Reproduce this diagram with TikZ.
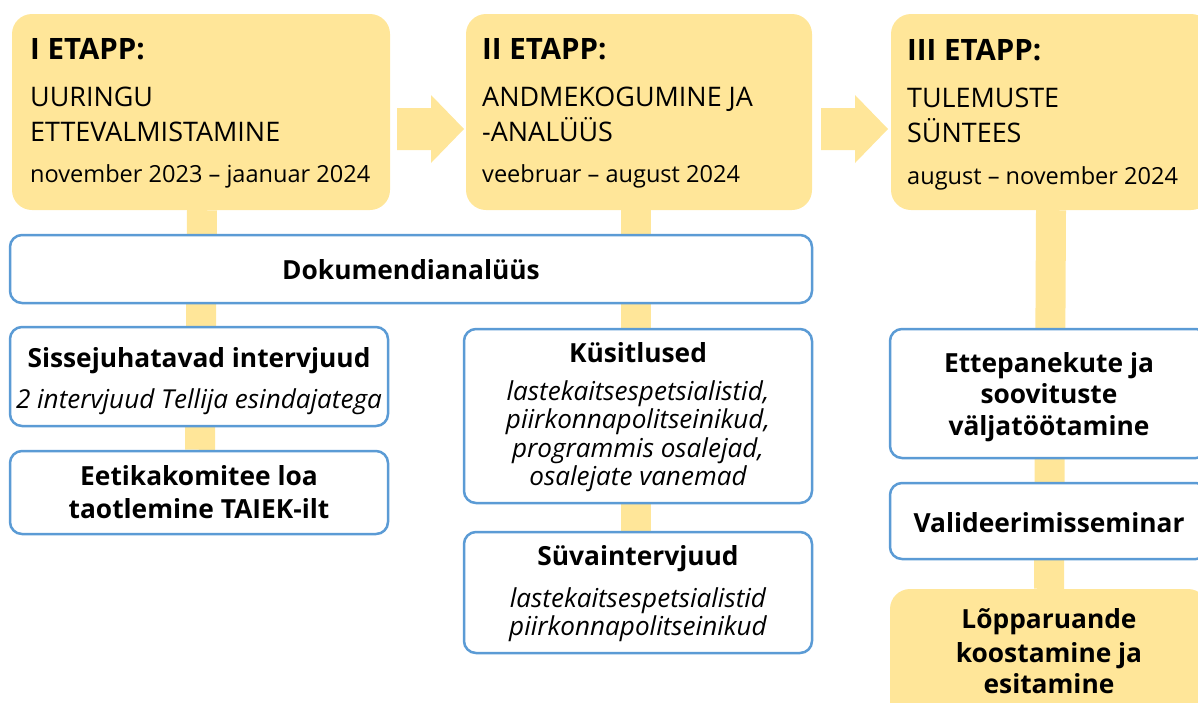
\documentclass[tikz,border=0pt]{standalone}
\usepackage{fontspec}
\setmainfont{Open Sans}
\usetikzlibrary{backgrounds}
\definecolor{gold}{HTML}{FFE699}
\definecolor{bord}{HTML}{5B9BD5}
\newlength\mw
\newcommand\fitsize[3]{\settowidth\mw{\fontsize{10pt}{12pt}\selectfont #2}\pgfmathsetmacro#1{10*#3/\mw}}
\begin{document}
\fitsize\szH{\bfseries III ETAPP:}{134}%
\fitsize\szC{ETTEVALMISTAMINE}{250}%
\fitsize\szD{november 2023 – jaanuar 2024}{340}%
\fitsize\szB{\bfseries Sissejuhatavad intervjuud}{343}%
\fitsize\szIa{\itshape 2 intervjuud Tellija esindajatega}{353}%
\fitsize\szIb{\itshape lastekaitsespetsialistid,}{272}%
\pgfmathsetmacro\szI{(\szIa+\szIb)/2}%
\begin{tikzpicture}[x=1pt,y=-1pt,
  stagebox/.style={fill=gold, rounded corners=20pt, inner sep=0pt},
  bluebox/.style={draw=bord, line width=2.5pt, fill=white, rounded corners=12pt, inner sep=0pt},
  headtxt/.style={inner sep=0pt, anchor=base west, font=\bfseries\fontsize{\szH pt}{\szH pt}\selectfont},
  captxt/.style={inner sep=0pt, anchor=base west, font=\fontsize{\szC pt}{\szC pt}\selectfont},
  datetxt/.style={inner sep=0pt, anchor=base west, font=\fontsize{\szD pt}{\szD pt}\selectfont},
  boldtxt/.style={inner sep=0pt, anchor=base, font=\bfseries\fontsize{\szB pt}{\szB pt}\selectfont},
  ittxt/.style={inner sep=0pt, anchor=base, font=\itshape\fontsize{\szI pt}{\szI pt}\selectfont},
  barline/.style={gold, line width=30pt},
  arrowshape/.style={fill=gold}
]
\useasboundingbox (0,0) rectangle (1198,702);
\clip (0,0) rectangle (1198,702);

% stage boxes
\node[stagebox, minimum width=378pt, minimum height=196pt] (s1) at (201,112) {};
\node[stagebox, minimum width=346pt, minimum height=196pt] (s2) at (639,112) {};
\node[stagebox, minimum width=320pt, minimum height=196pt] (s3) at (1051,112) {};

% arrows between stages
\fill[arrowshape] (397,108) -- (431,108) -- (431,95) -- (464,129) -- (431,163) -- (431,150) -- (397,150) -- cycle;
\fill[arrowshape] (821,108) -- (855,108) -- (855,95) -- (888,129) -- (855,163) -- (855,150) -- (821,150) -- cycle;

% stage texts
\node[headtxt] (h1) at (30,59) {I ETAPP:};
\node[captxt] (c1a) at (30,106) {UURINGU};
\node[captxt] (c1b) at (30,141.5) {ETTEVALMISTAMINE};
\node[datetxt] (d1) at (30,182) {november 2023 – jaanuar 2024};

\node[headtxt] (h2) at (482,59) {II ETAPP:};
\node[captxt] (c2a) at (482,106) {ANDMEKOGUMINE JA};
\node[captxt] (c2b) at (482,141.5) {-ANALÜÜS};
\node[datetxt] (d2) at (482,182) {veebruar – august 2024};

\node[headtxt] (h3) at (907,60) {III ETAPP:};
\node[captxt] (c3a) at (907,107) {TULEMUSTE};
\node[captxt] (c3b) at (907,142) {SÜNTEES};
\node[datetxt] (d3) at (907,184) {august – november 2024};

% blue boxes
\node[bluebox, minimum width=802pt, minimum height=68pt] (dok) at (411,269) {};
\node[boldtxt] (dokt) at (411,279.5) {Dokumendianalüüs};

\node[bluebox, minimum width=378pt, minimum height=99pt] (sis) at (199,376.5) {};
\node[boldtxt] (sist) at (199,367) {Sissejuhatavad intervjuud};
\node[ittxt] (sisi) at (199,408) {2 intervjuud Tellija esindajatega};

\node[bluebox, minimum width=378pt, minimum height=83pt] (eet) at (199,492.5) {};
\node[boldtxt] (eet1) at (199,485) {Eetikakomitee loa};
\node[boldtxt] (eet2) at (199,518) {taotlemine TAIEK-ilt};

\node[bluebox, minimum width=348pt, minimum height=174pt] (kys) at (638,416) {};
\node[boldtxt] (kyst) at (638,362) {Küsitlused};
\node[ittxt] (kys1) at (638,400) {lastekaitsespetsialistid,};
\node[ittxt] (kys2) at (638,428) {piirkonnapolitseinikud,};
\node[ittxt] (kys3) at (638,457) {programmis osalejad,};
\node[ittxt] (kys4) at (638,485) {osalejate vanemad};

\node[bluebox, minimum width=348pt, minimum height=121pt] (suv) at (638,592.5) {};
\node[boldtxt] (suvt) at (638,565) {Süvaintervjuud};
\node[ittxt] (suv1) at (638,607) {lastekaitsespetsialistid};
\node[ittxt] (suv2) at (638,635) {piirkonnapolitseinikud};

\node[bluebox, minimum width=318pt, minimum height=129pt] (ett) at (1049,393.5) {};
\node[boldtxt] (ett1) at (1049,372) {Ettepanekute ja};
\node[boldtxt] (ett2) at (1049,403) {soovituste};
\node[boldtxt] (ett3) at (1049,435) {väljatöötamine};

\node[bluebox, minimum width=318pt, minimum height=76pt] (val) at (1049,521) {};
\node[boldtxt] (valt) at (1049,532) {Valideerimisseminar};

\node[stagebox, minimum width=318pt, minimum height=140pt] (lop) at (1049,659) {};
\node[boldtxt] (lop1) at (1049,628) {Lõpparuande};
\node[boldtxt] (lop2) at (1049,662) {koostamine ja};
\node[boldtxt] (lop3) at (1049,693) {esitamine};

% vertical connecting bars
\begin{pgfonlayer}{background}
\draw[barline] ([xshift=1pt]s1.south) -- ([xshift=1pt]eet.north);
\draw[barline] ([xshift=-3pt]s2.south) -- ([xshift=-2pt]suv.north);
\draw[barline] (s3.south) -- (lop.north);
\end{pgfonlayer}
\end{tikzpicture}
\end{document}
